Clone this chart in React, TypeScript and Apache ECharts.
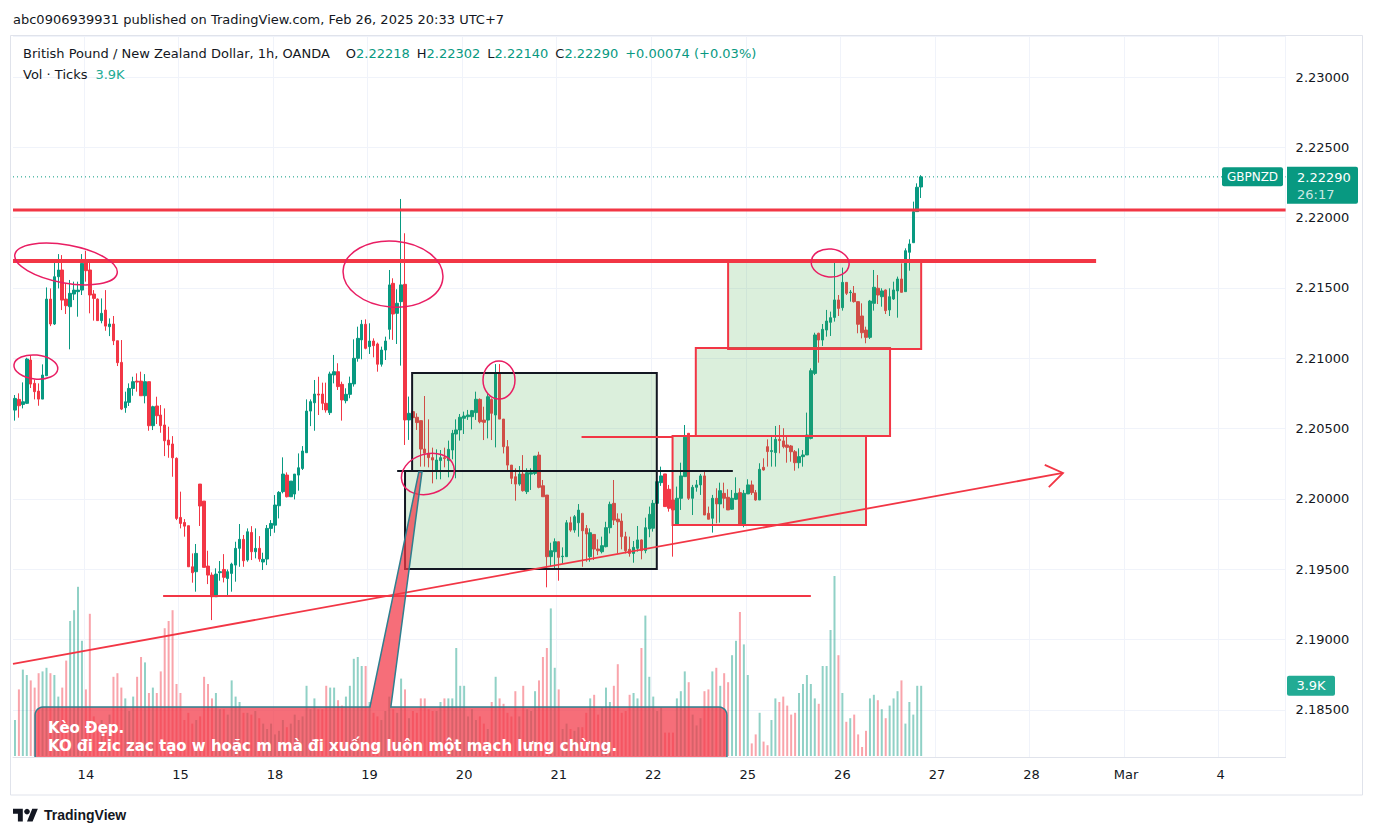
import React, { useEffect, useRef } from 'react';
import * as echarts from 'echarts';

// ---------- axis ticks ----------
const tickLabels = ['14', '15', '18', '19', '20', '21', '22', '25', '26', '27', '28', 'Mar', '4'];
const firstTickBar = 18;
const barsPerDay = 24;
const totalSlots = 323;

// ---------- GBPNZD 1h OHLC ----------
const opens = [
  2.20632, 2.20708, 2.20672, 2.20680, 2.20988, 2.20822, 2.20767, 2.20710, 2.20876, 2.21421,
  2.21244, 2.21580, 2.21628, 2.21421, 2.21367, 2.21457, 2.21474, 2.21485, 2.21687, 2.21628,
  2.21457, 2.21421, 2.21268, 2.21343, 2.21225, 2.21244, 2.21125, 2.20971, 2.20649, 2.20687,
  2.20786, 2.20838, 2.20838, 2.20734, 2.20834, 2.20521, 2.20661, 2.20597, 2.20526, 2.20419,
  2.20391, 2.20289, 2.19869, 2.19833, 2.19810, 2.19518, 2.19483, 2.20106, 2.19985, 2.19523,
  2.19459, 2.19305, 2.19476, 2.19499, 2.19435, 2.19471, 2.19530, 2.19649, 2.19713, 2.19566,
  2.19762, 2.19625, 2.19649, 2.19552, 2.19573, 2.19791, 2.19814, 2.19952, 2.20052, 2.20170,
  2.20016, 2.20035, 2.20170, 2.20217, 2.20329, 2.20625, 2.20684, 2.20746, 2.20746, 2.20680,
  2.20614, 2.20882, 2.20905, 2.20815, 2.20699, 2.20744, 2.20818, 2.21000, 2.21131, 2.21242,
  2.21083, 2.21123, 2.21102, 2.20958, 2.21059, 2.21206, 2.21533, 2.21320, 2.21403, 2.21526,
  2.20562, 2.20621, 2.20581, 2.20557, 2.20355, 2.20325, 2.20294, 2.20206, 2.20273, 2.20294,
  2.20273, 2.20348, 2.20462, 2.20491, 2.20574, 2.20585, 2.20585, 2.20614, 2.20708, 2.20561,
  2.20561, 2.20708, 2.20597, 2.20893, 2.20568, 2.20372, 2.20241, 2.20158, 2.20106, 2.20177,
  2.20052, 2.20177, 2.20182, 2.20312, 2.20094, 2.20028, 2.19590, 2.19625, 2.19696, 2.19590,
  2.19590, 2.19831, 2.19779, 2.19831, 2.19898, 2.19791, 2.19590, 2.19748, 2.19644, 2.19625,
  2.19661, 2.19796, 2.19969, 2.19857, 2.19843, 2.19732, 2.19642, 2.19613, 2.19649, 2.19709,
  2.19633, 2.19787, 2.19792, 2.19969, 2.20116, 2.20178, 2.20069, 2.19993, 2.19822, 2.20005,
  2.20159, 2.20467, 2.20005, 2.20083, 2.20100, 2.20164, 2.19898, 2.19863, 2.20005, 2.19965,
  2.20040, 2.20012, 2.19927, 2.19998, 2.20045, 2.19815, 2.20036, 2.20100, 2.20045, 2.19993,
  2.20225, 2.20372, 2.20337, 2.20330, 2.20424, 2.20413, 2.20384, 2.20377, 2.20336, 2.20258,
  2.20301, 2.20313, 2.20431, 2.20893, 2.21178, 2.21130, 2.21201, 2.21256, 2.21291, 2.21415,
  2.21360, 2.21540, 2.21467, 2.21462, 2.21403, 2.21301, 2.21201, 2.21149, 2.21391, 2.21498,
  2.21438, 2.21486, 2.21344, 2.21422, 2.21479, 2.21564, 2.21474, 2.21754, 2.21822, 2.22043,
  2.22218,
];
const closes = [
  2.20715, 2.20663, 2.20691, 2.20995, 2.20817, 2.20763, 2.20710, 2.20881, 2.21421, 2.21244,
  2.21580, 2.21628, 2.21414, 2.21374, 2.21462, 2.21485, 2.21485, 2.21675, 2.21623, 2.21450,
  2.21426, 2.21268, 2.21320, 2.21229, 2.21244, 2.21125, 2.20969, 2.20639, 2.20691, 2.20786,
  2.20834, 2.20831, 2.20734, 2.20834, 2.20521, 2.20656, 2.20592, 2.20521, 2.20414, 2.20384,
  2.20293, 2.19862, 2.19826, 2.19807, 2.19518, 2.19476, 2.19613, 2.19950, 2.19514, 2.19459,
  2.19305, 2.19466, 2.19483, 2.19443, 2.19483, 2.19537, 2.19649, 2.19713, 2.19561, 2.19767,
  2.19625, 2.19649, 2.19573, 2.19571, 2.19791, 2.19826, 2.19957, 2.20047, 2.20177, 2.20016,
  2.20127, 2.20177, 2.20222, 2.20341, 2.20625, 2.20692, 2.20746, 2.20739, 2.20680, 2.20633,
  2.20889, 2.20905, 2.20799, 2.20704, 2.20744, 2.20822, 2.21000, 2.21142, 2.21242, 2.21071,
  2.21123, 2.21090, 2.20958, 2.21059, 2.21123, 2.21522, 2.21315, 2.21391, 2.21522, 2.20562,
  2.20609, 2.20578, 2.20543, 2.20355, 2.20325, 2.20294, 2.20277, 2.20277, 2.20294, 2.20287,
  2.20353, 2.20467, 2.20491, 2.20581, 2.20590, 2.20597, 2.20628, 2.20709, 2.20549, 2.20545,
  2.20727, 2.20609, 2.20893, 2.20568, 2.20372, 2.20241, 2.20147, 2.20106, 2.20177, 2.20059,
  2.20187, 2.20187, 2.20305, 2.20083, 2.20016, 2.19590, 2.19632, 2.19696, 2.19585, 2.19594,
  2.19831, 2.19779, 2.19874, 2.19921, 2.19774, 2.19751, 2.19760, 2.19644, 2.19632, 2.19668,
  2.19796, 2.19962, 2.19850, 2.19838, 2.19732, 2.19632, 2.19613, 2.19656, 2.19709, 2.19633,
  2.19796, 2.19891, 2.19969, 2.20123, 2.20164, 2.19946, 2.19934, 2.19922, 2.20005, 2.20164,
  2.20439, 2.20005, 2.20083, 2.20100, 2.20164, 2.19886, 2.19856, 2.20005, 2.19965, 2.20059,
  2.20005, 2.19922, 2.20005, 2.20040, 2.19815, 2.20040, 2.20100, 2.20045, 2.19993, 2.20211,
  2.20206, 2.20337, 2.20344, 2.20424, 2.20415, 2.20372, 2.20367, 2.20336, 2.20258, 2.20301,
  2.20313, 2.20455, 2.20912, 2.21166, 2.21130, 2.21206, 2.21265, 2.21289, 2.21415, 2.21355,
  2.21540, 2.21462, 2.21471, 2.21403, 2.21242, 2.21182, 2.21149, 2.21407, 2.21505, 2.21450,
  2.21479, 2.21339, 2.21438, 2.21486, 2.21564, 2.21469, 2.21765, 2.21813, 2.22043, 2.22216,
  2.22290,
];
const lows = [
  2.20557, 2.20578, 2.20644, 2.20675, 2.20789, 2.20708, 2.20663, 2.20710, 2.20876, 2.21229,
  2.21237, 2.21497, 2.21343, 2.21315, 2.21064, 2.21414, 2.21296, 2.21450, 2.21545, 2.21320,
  2.21268, 2.21268, 2.21249, 2.21196, 2.21158, 2.21094, 2.20945, 2.20632, 2.20613, 2.20661,
  2.20734, 2.20763, 2.20734, 2.20680, 2.20485, 2.20490, 2.20533, 2.20471, 2.20305, 2.20293,
  2.20158, 2.19850, 2.19791, 2.19732, 2.19518, 2.19405, 2.19341, 2.19808, 2.19514, 2.19395,
  2.19139, 2.19305, 2.19419, 2.19407, 2.19305, 2.19341, 2.19412, 2.19518, 2.19518, 2.19554,
  2.19566, 2.19578, 2.19554, 2.19495, 2.19530, 2.19736, 2.19760, 2.19862, 2.20040, 2.20011,
  2.20016, 2.19997, 2.20059, 2.20206, 2.20329, 2.20518, 2.20485, 2.20597, 2.20632, 2.20614,
  2.20597, 2.20822, 2.20775, 2.20557, 2.20680, 2.20716, 2.20799, 2.20976, 2.20993, 2.21064,
  2.21031, 2.21007, 2.20905, 2.20941, 2.20988, 2.21135, 2.21131, 2.21102, 2.20948, 2.20384,
  2.20420, 2.20495, 2.20491, 2.20230, 2.20230, 2.20225, 2.20111, 2.20140, 2.20140, 2.20225,
  2.20154, 2.20282, 2.20147, 2.20415, 2.20462, 2.20562, 2.20495, 2.20562, 2.20538, 2.20419,
  2.20431, 2.20419, 2.20367, 2.20568, 2.20324, 2.20206, 2.20106, 2.19988, 2.20094, 2.20052,
  2.20035, 2.20064, 2.20170, 2.20076, 2.20016, 2.19372, 2.19518, 2.19507, 2.19419, 2.19542,
  2.19590, 2.19767, 2.19760, 2.19732, 2.19518, 2.19554, 2.19554, 2.19566, 2.19601, 2.19613,
  2.19656, 2.19755, 2.19815, 2.19613, 2.19642, 2.19613, 2.19590, 2.19547, 2.19626, 2.19571,
  2.19614, 2.19728, 2.19768, 2.19950, 2.20093, 2.19946, 2.19910, 2.19590, 2.19815, 2.19922,
  2.20159, 2.19993, 2.19886, 2.20052, 2.20029, 2.19886, 2.19856, 2.19761, 2.19827, 2.19832,
  2.19934, 2.19922, 2.19922, 2.19993, 2.19808, 2.19799, 2.20036, 2.20029, 2.19988, 2.19993,
  2.20202, 2.20230, 2.20230, 2.20230, 2.20325, 2.20360, 2.20258, 2.20265, 2.20201, 2.20218,
  2.20230, 2.20313, 2.20424, 2.20881, 2.20969, 2.21088, 2.21154, 2.21159, 2.21261, 2.21301,
  2.21339, 2.21450, 2.21403, 2.21396, 2.21178, 2.21142, 2.21107, 2.21137, 2.21339, 2.21386,
  2.21367, 2.21315, 2.21301, 2.21415, 2.21289, 2.21469, 2.21474, 2.21623, 2.21822, 2.22043,
  2.22140,
];
const highs = [
  2.20739, 2.20751, 2.20829, 2.21004, 2.21019, 2.20850, 2.20822, 2.20957, 2.21504, 2.21497,
  2.21694, 2.21741, 2.21734, 2.21533, 2.21557, 2.21545, 2.21545, 2.21741, 2.21765, 2.21687,
  2.21485, 2.21426, 2.21426, 2.21485, 2.21284, 2.21301, 2.21125, 2.21130, 2.20763, 2.20822,
  2.20869, 2.20893, 2.20905, 2.20888, 2.20834, 2.20663, 2.20727, 2.20668, 2.20644, 2.20514,
  2.20447, 2.20296, 2.20052, 2.19857, 2.19810, 2.19613, 2.19680, 2.20106, 2.19985, 2.19632,
  2.19478, 2.19507, 2.19559, 2.19608, 2.19499, 2.19547, 2.19696, 2.19822, 2.19744, 2.19791,
  2.19807, 2.19791, 2.19736, 2.19618, 2.19815, 2.19850, 2.20028, 2.20056, 2.20296, 2.20189,
  2.20127, 2.20177, 2.20324, 2.20376, 2.20708, 2.20708, 2.20846, 2.20869, 2.20827, 2.20827,
  2.20905, 2.21024, 2.20965, 2.20834, 2.20787, 2.20870, 2.21135, 2.21225, 2.21273, 2.21277,
  2.21249, 2.21142, 2.21112, 2.21083, 2.21154, 2.21628, 2.21569, 2.21491, 2.22133, 2.21889,
  2.20728, 2.20692, 2.20609, 2.20557, 2.20732, 2.20566, 2.20365, 2.20353, 2.20348, 2.20365,
  2.20415, 2.20491, 2.20566, 2.20604, 2.20621, 2.20633, 2.20633, 2.20763, 2.20715, 2.20656,
  2.20746, 2.20715, 2.20959, 2.20959, 2.20568, 2.20419, 2.20241, 2.20218, 2.20234, 2.20312,
  2.20218, 2.20218, 2.20305, 2.20336, 2.20135, 2.20028, 2.19689, 2.19720, 2.19696, 2.19656,
  2.19850, 2.19874, 2.19886, 2.19964, 2.19902, 2.19815, 2.19791, 2.19751, 2.19713, 2.19732,
  2.19838, 2.19981, 2.20135, 2.19898, 2.19898, 2.19767, 2.19732, 2.19701, 2.19808, 2.19713,
  2.19867, 2.19946, 2.19993, 2.20140, 2.20230, 2.20178, 2.20100, 2.20017, 2.20088, 2.20258,
  2.20526, 2.20467, 2.20100, 2.20135, 2.20178, 2.20202, 2.19946, 2.20029, 2.20076, 2.20116,
  2.20116, 2.20069, 2.20064, 2.20154, 2.20076, 2.20064, 2.20140, 2.20131, 2.20064, 2.20254,
  2.20289, 2.20424, 2.20455, 2.20519, 2.20526, 2.20503, 2.20443, 2.20384, 2.20348, 2.20360,
  2.20348, 2.20614, 2.20929, 2.21182, 2.21182, 2.21244, 2.21344, 2.21332, 2.21704, 2.21450,
  2.21645, 2.21540, 2.21486, 2.21514, 2.21403, 2.21391, 2.21225, 2.21415, 2.21628, 2.21592,
  2.21498, 2.21490, 2.21498, 2.21545, 2.21581, 2.21675, 2.21782, 2.21846, 2.22114, 2.22244,
  2.22302,
];
// tick volume, thousands
const volumes = [
  2.0, 3.7, 4.8, 4.5, 4.2, 3.8, 4.6, 4.7, 4.9, 4.6,
  4.5, 3.3, 3.8, 5.3, 7.5, 8.1, 9.4, 6.4, 3.7, 7.9,
  2.2, 1.8, 2.0, 1.6, 2.3, 4.4, 4.6, 3.8, 3.2, 2.5,
  3.3, 4.4, 5.5, 5.2, 3.5, 3.8, 3.5, 4.7, 7.1, 7.5,
  8.1, 4.0, 3.5, 2.0, 2.4, 1.8, 2.0, 2.2, 4.4, 4.0,
  3.2, 3.5, 2.6, 2.6, 2.3, 4.2, 3.3, 3.0, 2.4, 2.4,
  2.3, 2.5, 2.1, 1.8, 1.5, 1.8, 1.2, 1.4, 2.0, 1.6,
  1.8, 2.3, 2.0, 2.2, 3.9, 2.6, 3.2, 2.6, 2.6, 3.9,
  3.8, 3.8, 3.1, 2.8, 3.3, 3.9, 5.4, 5.5, 5.0, 5.0,
  3.0, 2.4, 2.2, 2.0, 2.5, 3.3, 2.6, 2.4, 4.3, 3.7,
  2.1, 2.5, 2.4, 3.2, 3.2, 2.6, 2.5, 2.5, 3.0, 3.2,
  3.2, 3.2, 6.0, 3.9, 3.9, 2.2, 2.6, 2.0, 2.2, 1.8,
  1.5, 3.0, 4.4, 3.2, 2.9, 2.4, 2.2, 3.6, 2.2, 3.9,
  2.6, 2.5, 3.6, 4.2, 5.5, 6.0, 8.2, 4.9, 3.7, 1.5,
  1.8, 1.5, 1.4, 1.6, 1.6, 2.4, 3.2, 3.4, 2.3, 2.7,
  3.8, 3.0, 3.9, 5.1, 2.4, 2.5, 3.4, 3.5, 3.2, 6.0,
  7.8, 4.4, 3.3, 2.5, 2.7, 1.3, 1.3, 1.3, 3.2, 3.6,
  4.7, 4.1, 2.3, 1.7, 2.1, 3.6, 3.7, 4.7, 4.9, 3.9,
  4.6, 4.1, 5.6, 6.4, 8.0, 6.2, 4.5, 0.7, 1.2, 2.4,
  0.8, 0.6, 2.0, 3.2, 3.0, 3.3, 2.8, 2.3, 2.4, 3.5,
  4.0, 4.5, 4.0, 3.2, 2.9, 5.0, 5.0, 7.0, 10.0, 5.6,
  3.5, 1.9, 2.1, 2.3, 1.2, 0.5, 1.4, 3.2, 3.4, 3.1,
  2.6, 2.1, 2.8, 3.2, 3.6, 4.2, 1.8, 3.0, 2.3, 3.9,
  3.9,
];

// ---------- drawings (anchored to bar index / price) ----------
const hLines = [
  { from: -0.5, to: 322.5, price: 2.22054, color: '#f23645', width: 3 },
  { from: -0.5, to: 274.4, price: 2.21692, color: '#f23645', width: 4 },
  { from: 37.6, to: 202.0, price: 2.1931, color: '#f23645', width: 2 },
  { from: 143.8, to: 166.9, price: 2.20441, color: '#f23645', width: 2 },
];
const blackLine = { from: 97.0, to: 182.2, price: 2.20199 };
const trendLine = { i1: -0.5, p1: 2.18827, i2: 266.0, p2: 2.20185 };
const boxes = [
  { from: 100.8, to: 162.9, top: 2.20896, bottom: 2.20199, color: '#131722' },
  { from: 99.0, to: 162.9, top: 2.20199, bottom: 2.19502, color: '#131722' },
  { from: 166.9, to: 216.0, top: 2.20448, bottom: 2.19815, color: '#f23645' },
  { from: 172.8, to: 222.1, top: 2.21073, bottom: 2.20448, color: '#f23645' },
  { from: 181.0, to: 230.0, top: 2.21692, bottom: 2.21066, color: '#f23645' },
];
const circles = [
  { i: 12.95, p: 2.21671, rx: 52, ry: 19, rot: -0.18 },
  { i: 5.3, p: 2.20938, rx: 22, ry: 12, rot: -0.1 },
  { i: 95.95, p: 2.21599, rx: 50, ry: 33, rot: -0.08 },
  { i: 122.85, p: 2.20846, rx: 16, ry: 19, rot: 0 },
  { i: 104.8, p: 2.20178, rx: 27, ry: 20, rot: 0.3 },
  { i: 206.9, p: 2.21678, rx: 19, ry: 14, rot: -0.1 },
];
const callout = {
  left: 5.1, right: 180.7, top: 2.18521,
  baseL: 90.1, baseR: 95.4, tipL: 102.5, tipR: 103.3, tipPrice: 2.20192,
  lines: ['Kèo Đẹp.', 'KO đi zic zac tạo w hoặc m mà đi xuống luôn một mạch lưng chừng.'],
};

const UP = '#089981';
const DOWN = '#f23645';
const FONT = '"DejaVu Sans", Roboto, sans-serif';

echarts.graphic.registerShape(
  'tvlogo',
  echarts.graphic.extendPath('M14 22H7V11H0V4h14v18zM28 22h-8l7.5-18h8L28 22z', {})
);

const slotNames = Array.from({ length: totalSlots }, (_, i) => 'b' + i);
const tickAt = new Map<number, string>();
tickLabels.forEach((t, k) => tickAt.set(firstTickBar + k * barsPerDay, t));

export default function App() {
  const ref = useRef<HTMLDivElement>(null);
  useEffect(() => {
    const chart = echarts.init(ref.current!, null, { renderer: 'svg' });
    const last = closes.length - 1;
    const gridBase = { left: 13, width: 1272.62, containLabel: false, outerBoundsMode: 'none' };
    chart.setOption({
      animation: false,
      backgroundColor: '#ffffff',
      grid: [
        { ...gridBase, top: 36, height: 721 },
        { ...gridBase, top: 576, height: 180 },
      ],
      xAxis: [
        {
          type: 'category', gridIndex: 0, data: slotNames, boundaryGap: true,
          axisLine: { show: true, lineStyle: { color: '#e0e3eb' } },
          axisTick: { show: false },
          axisLabel: {
            interval: (idx: number) => tickAt.has(idx),
            formatter: (_v: string, idx: number) => tickAt.get(idx) ?? '',
            color: '#131722', fontSize: 13, fontFamily: FONT, margin: 11,
          },
          splitLine: { show: true, interval: (idx: number) => tickAt.has(idx), lineStyle: { color: '#f0f3fa', width: 1 } },
        },
        { type: 'category', gridIndex: 1, data: slotNames, boundaryGap: true, show: false },
      ],
      yAxis: [
        {
          type: 'value', gridIndex: 0, position: 'right', scale: true,
          min: 2.181657, max: 2.232915, minInterval: 0.005, maxInterval: 0.005, splitNumber: 10,
          axisLine: { show: false }, axisTick: { show: false },
          axisLabel: {
            margin: 10, color: '#131722', fontSize: 13, fontFamily: FONT,
            showMinLabel: false, showMaxLabel: false,
            formatter: (v: number) => (Math.abs(v / 0.005 - Math.round(v / 0.005)) < 1e-6 ? v.toFixed(5) : ''),
          },
          splitLine: { show: true, lineStyle: { color: '#f0f3fa', width: 1 } },
        },
        { type: 'value', gridIndex: 1, min: 0, max: 10, show: false },
      ],
      series: [
        {
          type: 'bar', xAxisIndex: 1, yAxisIndex: 1, barWidth: 2, z: 1, silent: true,
          data: volumes.map((v, i) => ({
            value: v,
            itemStyle: { color: closes[i] >= opens[i] ? 'rgba(8,153,129,0.45)' : 'rgba(242,54,69,0.45)' },
          })),
        },
        {
          type: 'candlestick', xAxisIndex: 0, yAxisIndex: 0, barWidth: 3, z: 3, silent: true,
          data: opens.map((o, i) => [o, closes[i], lows[i], highs[i]]),
          itemStyle: { color: UP, color0: DOWN, borderColor: UP, borderColor0: DOWN, borderWidth: 1 },
        },
      ],
    });

    const a = chart.convertToPixel({ gridIndex: 0 }, [0, 2.2]) as number[];
    const b = chart.convertToPixel({ gridIndex: 0 }, [100, 2.2]) as number[];
    const step = (b[0] - a[0]) / 100;
    const X = (i: number) => a[0] + i * step;
    const Y = (p: number) => (chart.convertToPixel({ gridIndex: 0 }, [0, p]) as number[])[1];
    const plotBottom = Y(2.181657);
    const plotRight = X(totalSlots - 0.5);
    const els: any[] = [];

    // frame
    els.push({ type: 'rect', z: 0, shape: { x: 10.5, y: 35.5, width: 1352, height: 759.5 }, style: { fill: 'none', stroke: '#e0e3eb', lineWidth: 1 } });

    // header
    els.push({
      type: 'text', z: 100, x: 13, y: 19,
      style: { text: 'abc0906939931 published on TradingView.com, Feb 26, 2025 20:33 UTC+7', fill: '#131722', font: `13px ${FONT}`, align: 'left', verticalAlign: 'middle' },
    });
    const chg = closes[last] - closes[last - 1];
    const pct = (chg / closes[last - 1]) * 100;
    const sign = chg >= 0 ? '+' : '';
    els.push({
      type: 'text', z: 100, x: 23, y: 53,
      style: {
        text:
          `{n|British Pound / New Zealand Dollar, 1h, OANDA}{g1| }{n|O}{v|${opens[last].toFixed(5)}}{g2| }{n|H}{v|${highs[last].toFixed(5)}}{g2| }` +
          `{n|L}{v|${lows[last].toFixed(5)}}{g2| }{n|C}{v|${closes[last].toFixed(5)}}{g2| }{v|${sign}${chg.toFixed(5)} (${sign}${pct.toFixed(2)}%)}`,
        align: 'left', verticalAlign: 'middle',
        rich: {
          n: { fill: '#131722', fontSize: 13, fontFamily: FONT },
          v: { fill: UP, fontSize: 13, fontFamily: FONT },
          g1: { width: 16, fontSize: 13 },
          g2: { width: 7, fontSize: 13 },
        },
      },
    });
    els.push({
      type: 'text', z: 100, x: 23, y: 74,
      style: {
        text: `{n|Vol · Ticks}{g| }{v|${volumes[last].toFixed(1)}K}`,
        align: 'left', verticalAlign: 'middle',
        rich: {
          n: { fill: '#131722', fontSize: 13, fontFamily: FONT },
          v: { fill: '#22ab94', fontSize: 13, fontFamily: FONT },
          g: { width: 8, fontSize: 13 },
        },
      },
    });

    // last price dotted line
    const ly = Y(closes[last]);
    els.push({
      type: 'line', z: 5, shape: { x1: 13, y1: ly, x2: plotRight, y2: ly },
      style: { stroke: UP, lineWidth: 1, lineDash: [1, 3] },
    });

    // boxes
    boxes.forEach((r) => {
      els.push({
        type: 'rect', z: 40,
        shape: { x: X(r.from), y: Y(r.top), width: X(r.to) - X(r.from), height: Y(r.bottom) - Y(r.top) },
        style: { fill: 'rgba(76,175,80,0.2)', stroke: r.color, lineWidth: 2 },
      });
    });
    // horizontal lines
    hLines.forEach((l) => {
      const y = Y(l.price);
      els.push({ type: 'line', z: 45, shape: { x1: Math.max(X(l.from), 13), y1: y, x2: Math.min(X(l.to), plotRight), y2: y }, style: { stroke: l.color, lineWidth: l.width } });
    });
    els.push({
      type: 'line', z: 46,
      shape: { x1: X(blackLine.from), y1: Y(blackLine.price), x2: X(blackLine.to), y2: Y(blackLine.price) },
      style: { stroke: '#131722', lineWidth: 2 },
    });
    // trend line with arrow
    const tx1 = Math.max(X(trendLine.i1), 13), ty1 = Y(trendLine.p1);
    const tx2 = X(trendLine.i2), ty2 = Y(trendLine.p2);
    els.push({ type: 'line', z: 45, shape: { x1: tx1, y1: ty1, x2: tx2, y2: ty2 }, style: { stroke: '#f23645', lineWidth: 1.8 } });
    const th = Math.atan2(ty2 - ty1, tx2 - tx1);
    const L = 20, phi = 0.6;
    els.push({
      type: 'polyline', z: 45,
      shape: { points: [[tx2 - L * Math.cos(th + phi), ty2 - L * Math.sin(th + phi)], [tx2, ty2], [tx2 - L * Math.cos(th - phi), ty2 - L * Math.sin(th - phi)]] },
      style: { stroke: '#f23645', lineWidth: 1.8, fill: 'none' },
    });
    // circles
    circles.forEach((c) => {
      els.push({
        type: 'ellipse', z: 60, x: X(c.i), y: Y(c.p), rotation: c.rot,
        shape: { cx: 0, cy: 0, rx: c.rx, ry: c.ry },
        style: { fill: 'none', stroke: '#e91e63', lineWidth: 1.5 },
      });
    });

    // callout
    const cl = X(callout.left), cr = X(callout.right), ct = Y(callout.top), r = 8;
    const pts: number[][] = [[cl, plotBottom]];
    for (let k = 0; k <= 6; k++) {
      const ang = Math.PI + (k / 6) * (Math.PI / 2);
      pts.push([cl + r + r * Math.cos(ang), ct + r + r * Math.sin(ang)]);
    }
    pts.push([X(callout.baseL), ct], [X(callout.tipL), Y(callout.tipPrice)], [X(callout.tipR), Y(callout.tipPrice)], [X(callout.baseR), ct]);
    for (let k = 0; k <= 6; k++) {
      const ang = 1.5 * Math.PI + (k / 6) * (Math.PI / 2);
      pts.push([cr - r + r * Math.cos(ang), ct + r + r * Math.sin(ang)]);
    }
    pts.push([cr, plotBottom]);
    els.push({ type: 'polygon', z: 70, shape: { points: pts }, style: { fill: 'rgba(242,54,69,0.72)', stroke: 'none' } });
    els.push({ type: 'polyline', z: 71, shape: { points: pts }, style: { fill: 'none', stroke: '#2f7f8f', lineWidth: 1.5 } });
    callout.lines.forEach((t, k) => {
      els.push({
        type: 'text', z: 72, x: cl + 13, y: ct + 21 + k * 18,
        style: { text: t, fill: '#ffffff', font: `bold 15px ${FONT}`, align: 'left', verticalAlign: 'middle' },
      });
    });

    // price tags
    els.push({ type: 'rect', z: 80, shape: { x: 1222, y: ly - 9.5, width: 61, height: 19, r: 2 }, style: { fill: UP } });
    els.push({ type: 'text', z: 81, x: 1252.5, y: ly, style: { text: 'GBPNZD', fill: '#ffffff', font: `12px ${FONT}`, align: 'center', verticalAlign: 'middle' } });
    els.push({ type: 'rect', z: 80, shape: { x: 1287, y: ly - 10, width: 71, height: 37, r: [0, 2, 2, 0] }, style: { fill: UP } });
    els.push({ type: 'text', z: 81, x: 1297, y: ly + 0.5, style: { text: closes[last].toFixed(5), fill: '#ffffff', font: `13px ${FONT}`, align: 'left', verticalAlign: 'middle' } });
    els.push({ type: 'text', z: 81, x: 1297, y: ly + 18, style: { text: '26:17', fill: 'rgba(255,255,255,0.8)', font: `13px ${FONT}`, align: 'left', verticalAlign: 'middle' } });
    const vy = (chart.convertToPixel({ gridIndex: 1 }, [last, volumes[last]]) as number[])[1];
    els.push({ type: 'rect', z: 80, shape: { x: 1287, y: vy - 10, width: 48, height: 20, r: 2 }, style: { fill: '#22ab94' } });
    els.push({ type: 'text', z: 81, x: 1311, y: vy, style: { text: `${volumes[last].toFixed(1)}K`, fill: '#ffffff', font: `13px ${FONT}`, align: 'center', verticalAlign: 'middle' } });

    // logo
    els.push({ type: 'tvlogo', z: 100, x: 13, y: 806, scaleX: 0.7, scaleY: 0.7, style: { fill: '#131722' } });
    els.push({ type: 'circle', z: 100, shape: { cx: 13 + 20 * 0.7, cy: 806 + 8 * 0.7, r: 4 * 0.7 }, style: { fill: '#131722' } });
    els.push({ type: 'text', z: 100, x: 44, y: 815, style: { text: 'TradingView', fill: '#131722', font: `bold 14px "Liberation Sans", Roboto, sans-serif`, align: 'left', verticalAlign: 'middle' } });

    chart.setOption({ graphic: { elements: els } });
    return () => chart.dispose();
  }, []);
  return <div ref={ref} style={{ position: 'absolute', left: 0, top: 0, width: 1376, height: 836 }} />;
}
